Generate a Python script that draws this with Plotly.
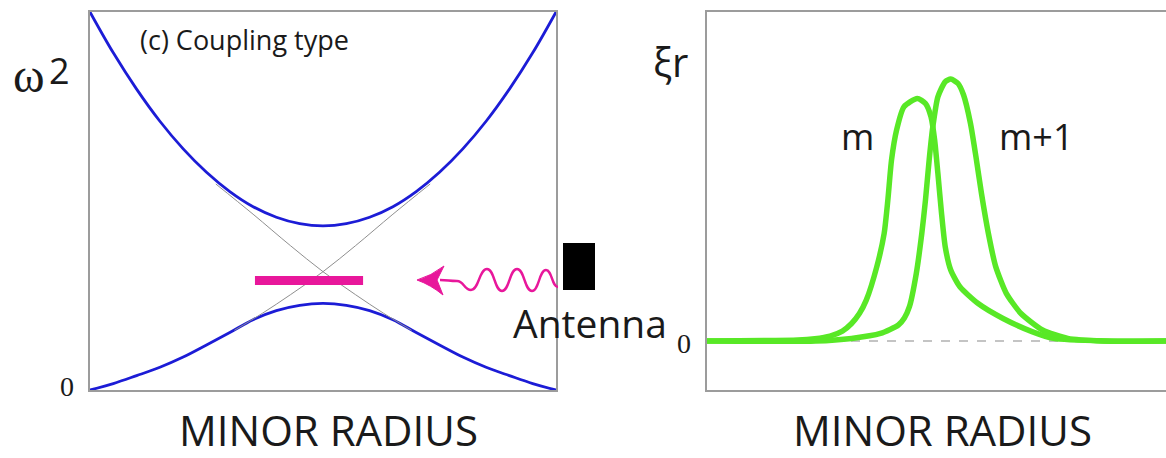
import plotly.graph_objects as go

W, H = 1166, 458

# ---- left panel: shear Alfven continuum, omega^2 vs normalised minor radius ----
radius_l = [0.00, 0.05, 0.10, 0.15, 0.20, 0.25, 0.30, 0.35, 0.40, 0.45, 0.50,
            0.55, 0.60, 0.65, 0.70, 0.75, 0.80, 0.85, 0.90, 0.95, 1.00]
omega2_upper = [1.000, 0.892, 0.796, 0.711, 0.638, 0.576, 0.525, 0.485, 0.457, 0.440, 0.434,
                0.440, 0.457, 0.485, 0.525, 0.576, 0.638, 0.711, 0.796, 0.892, 1.000]
omega2_lower = [0.000, 0.017, 0.038, 0.060, 0.087, 0.119, 0.152, 0.186, 0.210, 0.224, 0.229,
                0.224, 0.210, 0.186, 0.152, 0.119, 0.087, 0.060, 0.038, 0.017, 0.000]

# uncoupled m and m+1 branches around the crossing
branch_a_r = [0.27, 0.35, 0.43, 0.50, 0.57, 0.63, 0.69]
branch_a_w = [0.545, 0.465, 0.382, 0.313, 0.252, 0.203, 0.158]
branch_b_r = [0.31, 0.37, 0.43, 0.50, 0.57, 0.65, 0.73]
branch_b_w = [0.158, 0.203, 0.252, 0.313, 0.382, 0.465, 0.545]

# antenna drive frequency (inside the gap)
drive_r = [0.354, 0.586]
drive_w = [0.290, 0.290]

# ---- right panel: radial displacement of the two coupled harmonics ----
radius_m = [0.000, 0.198, 0.235, 0.268, 0.295, 0.315, 0.332, 0.347, 0.370, 0.386, 0.394,
            0.402, 0.413, 0.429, 0.458, 0.476, 0.488, 0.496, 0.503, 0.511, 0.519, 0.531,
            0.551, 0.590, 0.645, 0.708, 0.755, 0.864, 1.000]
xi_m = [0.000, 0.004, 0.009, 0.019, 0.038, 0.067, 0.105, 0.156, 0.284, 0.411, 0.538,
        0.691, 0.805, 0.894, 0.926, 0.907, 0.856, 0.767, 0.640, 0.487, 0.360, 0.271,
        0.207, 0.144, 0.086, 0.036, 0.010, 0.000, 0.000]
radius_m1 = [0.000, 0.237, 0.315, 0.378, 0.417, 0.430, 0.441, 0.456, 0.468, 0.476, 0.484,
             0.492, 0.503, 0.519, 0.531, 0.547, 0.559, 0.574, 0.586, 0.598, 0.613, 0.629,
             0.652, 0.684, 0.731, 0.786, 0.864, 1.000]
xi_m1 = [0.000, 0.000, 0.010, 0.029, 0.061, 0.088, 0.131, 0.258, 0.411, 0.538, 0.691,
         0.818, 0.932, 0.990, 1.000, 0.983, 0.939, 0.831, 0.703, 0.563, 0.411, 0.284,
         0.182, 0.105, 0.042, 0.010, 0.000, 0.000]

labels = {"panel": "(c) Coupling type", "xtitle": "MINOR RADIUS", "m": "m", "m1": "m+1",
          "antenna": "Antenna", "zero": "0"}

BLUE = "#1c1cd6"
GREEN = "#58e826"
MAGENTA = "#e8179b"
FRAME = "#9c9c9c"
INK = "#1a1a1a"
SANS = "Open Sans"
SERIF = "Liberation Serif"


def fx(p):
    return p / W


def fy(p):
    return 1 - p / H


fig = go.Figure()

# continuum branches
for yv in (omega2_upper, omega2_lower):
    fig.add_trace(go.Scatter(x=radius_l, y=yv, mode="lines", line_shape="spline",
                             line=dict(color=BLUE, width=2.8), xaxis="x", yaxis="y",
                             hoverinfo="skip", showlegend=False))
for xv, yv in ((branch_a_r, branch_a_w), (branch_b_r, branch_b_w)):
    fig.add_trace(go.Scatter(x=xv, y=yv, mode="lines", line_shape="spline",
                             line=dict(color="#8f8f8f", width=1), xaxis="x", yaxis="y",
                             hoverinfo="skip", showlegend=False))
fig.add_trace(go.Scatter(x=drive_r, y=drive_w, mode="lines",
                         line=dict(color=MAGENTA, width=9), xaxis="x", yaxis="y",
                         hoverinfo="skip", showlegend=False))

# eigenfunctions
for xv, yv in ((radius_m, xi_m), (radius_m1, xi_m1)):
    fig.add_trace(go.Scatter(x=xv, y=yv, mode="lines", line_shape="spline",
                             line=dict(color=GREEN, width=5.5, smoothing=0.6),
                             xaxis="x2", yaxis="y2", hoverinfo="skip", showlegend=False))

shapes = [
    dict(type="line", xref="x2", yref="y2", x0=0, x1=1, y0=0, y1=0, layer="below",
         line=dict(color="#8a8a8a", width=1.2, dash="dash")),
    # antenna block
    dict(type="rect", xref="paper", yref="paper", x0=fx(563), x1=fx(595),
         y0=fy(290), y1=fy(243), fillcolor="black", line=dict(width=0)),
]

# wavy wave path from the antenna towards the gap
wave_pts = [(440, 280), (457, 281), (471, 290), (487, 269), (502, 291), (517, 269),
            (532, 291), (546, 270), (558, 287)]
path = f"M {fx(wave_pts[0][0]):.5f},{fy(wave_pts[0][1]):.5f}"
for (x0, y0), (x1, y1) in zip(wave_pts[:-1], wave_pts[1:]):
    d = (x1 - x0) / 2
    path += (f" C {fx(x0 + d):.5f},{fy(y0):.5f} {fx(x1 - d):.5f},{fy(y1):.5f}"
             f" {fx(x1):.5f},{fy(y1):.5f}")
shapes.append(dict(type="path", xref="paper", yref="paper", path=path,
                   line=dict(color=MAGENTA, width=2.4)))

head = [(417, 280), (444, 266), (437, 280), (443, 295)]
hp = (f"M {fx(head[0][0]):.5f},{fy(head[0][1]):.5f}"
      f" Q {fx(431):.5f},{fy(276):.5f} {fx(head[1][0]):.5f},{fy(head[1][1]):.5f}"
      f" L {fx(head[2][0]):.5f},{fy(head[2][1]):.5f}"
      f" L {fx(head[3][0]):.5f},{fy(head[3][1]):.5f}"
      f" Q {fx(431):.5f},{fy(285):.5f} {fx(head[0][0]):.5f},{fy(head[0][1]):.5f} Z")
shapes.append(dict(type="path", xref="paper", yref="paper", path=hp,
                   fillcolor=MAGENTA, line=dict(color=MAGENTA, width=1)))


def note(text, x, y, size, family=SANS, xanchor="center"):
    return dict(text=text, x=fx(x), y=fy(y), xref="paper", yref="paper",
                xanchor=xanchor, yanchor="middle", showarrow=False,
                font=dict(family=family, size=size, color=INK))


annotations = [
    note(labels["panel"], 138, 39, 27, xanchor="left"),
    note("ω", 29, 76, 48, family=SERIF),
    note("2", 59, 70, 36),
    note("ξr", 670, 62, 40),
    note(labels["m"], 857, 136, 36),
    note(labels["m1"], 1036, 136, 36),
    note(labels["antenna"], 511, 322, 39, xanchor="left"),
    note(labels["xtitle"], 328, 429, 42),
    note(labels["xtitle"], 942, 429, 42),
    note(labels["zero"], 67, 386, 28, family=SERIF),
    note(labels["zero"], 684, 343, 28, family=SERIF),
]

frame = dict(showline=True, linecolor=FRAME, linewidth=1.5, showgrid=False,
             zeroline=False, ticks="", showticklabels=False, fixedrange=True)

fig.update_layout(
    width=W, height=H, margin=dict(l=0, r=0, t=0, b=0),
    paper_bgcolor="white", plot_bgcolor="white", showlegend=False,
    shapes=shapes, annotations=annotations,
    xaxis=dict(domain=[fx(90), fx(556)], range=[0, 1], mirror=True, anchor="y", **frame),
    yaxis=dict(domain=[fy(390), fy(12)], range=[0, 1], mirror=True, anchor="x", **frame),
    xaxis2=dict(domain=[fx(707), 1], range=[0, 1], mirror=True, anchor="y2", **frame),
    yaxis2=dict(domain=[fy(390), fy(12)], range=[-0.187, 1.256], mirror=False,
                anchor="x2", **frame),
)

fig.write_html("out.html")
